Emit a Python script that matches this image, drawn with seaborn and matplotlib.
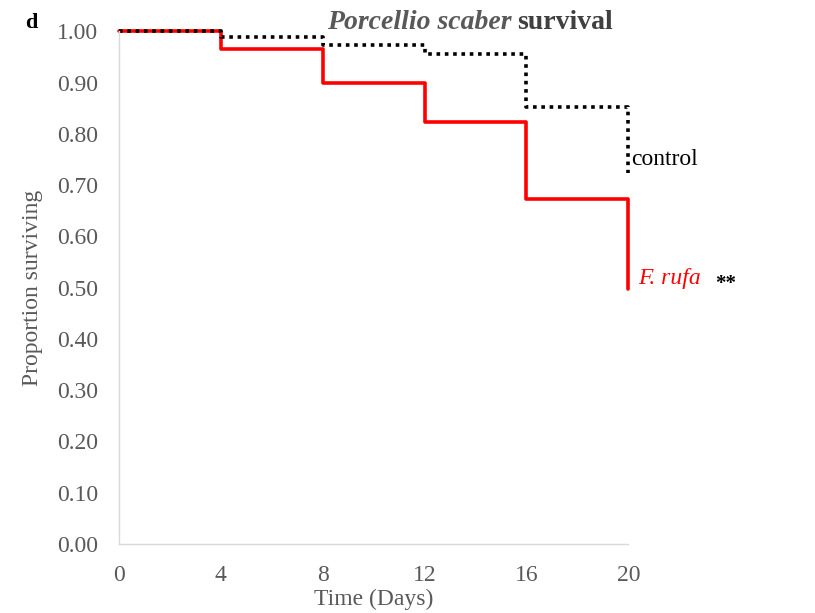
import matplotlib
matplotlib.use("Agg")
import matplotlib.pyplot as plt
import seaborn as sns
import pandas as pd

days = [0, 4, 8, 12, 16, 20]
control = [1.00, 0.988, 0.973, 0.955, 0.852, 0.723]
f_rufa = [1.00, 0.965, 0.899, 0.823, 0.673, 0.497]
x_ticks = [0, 4, 8, 12, 16, 20]
y_ticks = [0.0, 0.1, 0.2, 0.3, 0.4, 0.5, 0.6, 0.7, 0.8, 0.9, 1.0]

sns.set_theme(style="white")
plt.rcParams['font.family'] = ['Liberation Serif', 'DejaVu Serif']

df = pd.DataFrame({"day": days, "control": control, "rufa": f_rufa})

fig = plt.figure(figsize=(8.15, 6.13), dpi=100)
ax = fig.add_axes([0.146, 0.1126, 0.625, 0.8364])

sns.lineplot(data=df, x="day", y="rufa", ax=ax, color="#ff0000", lw=2.6,
             drawstyle="steps-post")
sns.lineplot(data=df, x="day", y="control", ax=ax, color="black", lw=2.6,
             linestyle=(0, (1, 1.3)), drawstyle="steps-post")

ax.set_xlim(0, 20)
ax.set_ylim(0, 1.0)
ax.set_xticks(x_ticks)
ax.set_yticks(y_ticks)
ax.set_yticklabels([f"{v:.2f}" for v in y_ticks])
ax.tick_params(axis="both", length=0, labelsize=17, colors="#595959")
ax.tick_params(axis="x", pad=15)
ax.tick_params(axis="y", pad=15)
for s in ["top", "right"]:
    ax.spines[s].set_visible(False)
for s in ["left", "bottom"]:
    ax.spines[s].set_color("#d9d9d9")
    ax.spines[s].set_linewidth(1.0)
for l in ax.lines:
    l.set_clip_on(False)

ax.set_xlabel("Time (Days)", fontsize=17, color="#595959", labelpad=2)
ax.set_ylabel("Proportion surviving", fontsize=17, color="#595959", labelpad=10)

fig.text(0.031, 0.962, "d", fontsize=16, fontweight="bold", color="black", va="center")
fig.text(0.628, 0.963, "Porcellio scaber", fontsize=20, color="#595959",
         ha="right", va="center", style="italic", fontweight="bold")
fig.text(0.635, 0.963, "survival", fontsize=20, color="#404040",
         ha="left", va="center", fontweight="bold")

ax.text(20.1, 0.749, "control", fontsize=17, color="black", va="center", ha="left")
ax.text(20.4, 0.517, "F. rufa", fontsize=17, color="#ff0000", va="center",
        ha="left", style="italic")
ax.text(23.4, 0.507, "**", fontsize=15, color="black", va="center", ha="left",
        fontweight="bold")

fig.savefig("out.png", dpi=100, facecolor="white")
